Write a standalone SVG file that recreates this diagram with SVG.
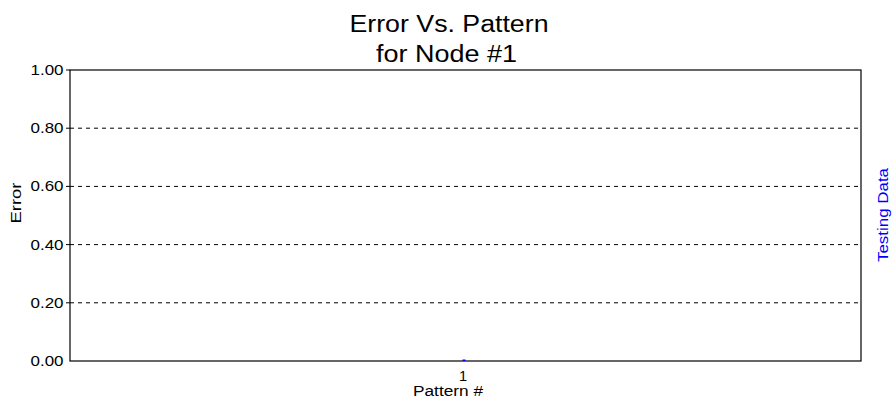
<svg xmlns="http://www.w3.org/2000/svg" width="892" height="398" viewBox="0 0 892 398">
<style>
text { font-family: "Liberation Sans", Arial, sans-serif; fill: #000; }
.title { font-size: 23px; text-anchor: middle; }
.tick { font-size: 14.5px; text-anchor: end; }
.grid { stroke: #000; stroke-width: 1; stroke-dasharray: 4 4; fill: none; }
.axis { stroke: #000; stroke-width: 1.2; fill: none; }
</style>
<rect width="892" height="398" fill="#fff"/>
<g id="title">
<text class="title" x="449" y="32" textLength="199" lengthAdjust="spacingAndGlyphs">Error Vs. Pattern</text>
<text class="title" x="446.5" y="62" textLength="141" lengthAdjust="spacingAndGlyphs">for Node #1</text>
</g>
<g id="grid">
<line class="grid" x1="70" y1="128.2" x2="861" y2="128.2"/>
<line class="grid" x1="70" y1="186.4" x2="861" y2="186.4"/>
<line class="grid" x1="70" y1="244.6" x2="861" y2="244.6"/>
<line class="grid" x1="70" y1="302.8" x2="861" y2="302.8"/>
</g>
<g id="axes">
<rect class="axis" x="70" y="70" width="791" height="291"/>
<path d="M66 70H70M66 128.2H70M66 186.4H70M66 244.6H70M66 302.8H70" stroke="#000" stroke-width="1"/>
</g>
<g id="y-labels">
<text class="tick" x="63.5" y="75" textLength="33" lengthAdjust="spacingAndGlyphs">1.00</text>
<text class="tick" x="63.5" y="133.2" textLength="33" lengthAdjust="spacingAndGlyphs">0.80</text>
<text class="tick" x="63.5" y="191.4" textLength="33" lengthAdjust="spacingAndGlyphs">0.60</text>
<text class="tick" x="63.5" y="249.6" textLength="33" lengthAdjust="spacingAndGlyphs">0.40</text>
<text class="tick" x="63.5" y="307.8" textLength="33" lengthAdjust="spacingAndGlyphs">0.20</text>
<text class="tick" x="63.5" y="366" textLength="33" lengthAdjust="spacingAndGlyphs">0.00</text>
</g>
<g id="y-title">
<text font-size="14" text-anchor="middle" transform="translate(21,203) rotate(-90)" textLength="41" lengthAdjust="spacingAndGlyphs">Error</text>
</g>
<g id="legend">
<text font-size="15" text-anchor="middle" style="fill:#0000ff" transform="translate(887.5,215) rotate(-90)" textLength="94" lengthAdjust="spacingAndGlyphs">Testing Data</text>
</g>
<g id="data">
<rect x="462.5" y="359.5" width="3" height="1.5" fill="#0000ff"/>
</g>
<g id="x-labels">
<text font-size="14.5" text-anchor="middle" x="463" y="381">1</text>
<text font-size="14" text-anchor="middle" x="448" y="396" textLength="70" lengthAdjust="spacingAndGlyphs">Pattern #</text>
</g>
</svg>
